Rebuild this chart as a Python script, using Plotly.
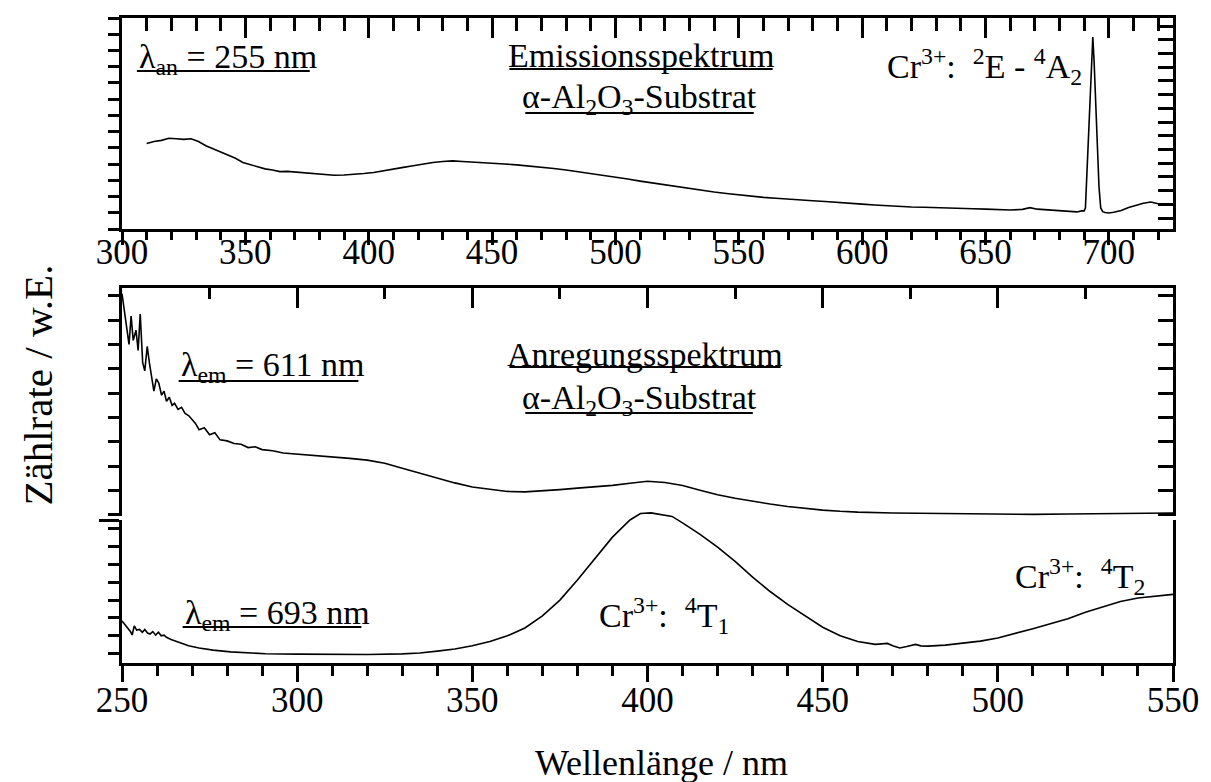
import plotly.graph_objects as go

# ---------------- data (arbitrary units) -------------
em_nm = [310, 313, 316, 319, 322, 325, 328, 331, 334, 337, 340, 343, 346, 349, 352, 355, 358,
         361, 364, 367, 370, 374, 378, 382, 386, 390, 394, 398, 402, 406, 410, 414, 418, 422,
         426, 430, 434, 438, 442, 446, 450, 455, 460, 465, 470, 475, 480, 485, 490, 495, 500,
         505, 510, 515, 520, 525, 530, 535, 540, 545, 550, 555, 560, 565, 570, 575, 580, 585,
         590, 595, 600, 605, 610, 615, 620, 625, 630, 635, 640, 645, 650, 655, 660, 665, 668,
         671, 675, 680, 684, 687, 689, 690, 690.5, 691, 692, 693, 693.5, 694, 695, 696, 696.7,
         697.5, 698.5, 700, 702, 705, 708, 711, 714, 717, 720, 723, 726]
em_val = [40.5, 41.5, 42.0, 43.0, 42.8, 42.5, 42.8, 41.5, 39.5, 38.0, 36.5, 35.0, 33.5, 31.5,
          30.5, 29.5, 28.5, 28.0, 27.2, 27.3, 27.0, 26.6, 26.2, 25.7, 25.5, 25.6, 25.8, 26.3,
          26.8, 27.5, 28.3, 29.2, 30.0, 30.9, 31.5, 32.0, 32.3, 32.0, 31.8, 31.6, 31.3, 30.8,
          30.4, 29.9, 29.3, 28.7, 28.0, 27.2, 26.3, 25.4, 24.6, 23.7, 22.7, 21.8, 20.9, 20.0,
          19.1, 18.3, 17.5, 16.8, 16.1, 15.5, 15.0, 14.6, 14.3, 13.8, 13.4, 13.0, 12.7, 12.2,
          11.8, 11.4, 11.0, 10.6, 10.4, 10.3, 10.2, 10.1, 9.8, 9.6, 9.4, 9.2, 9.0, 9.3, 10.1,
          9.4, 9.0, 8.6, 8.3, 8.1, 8.6, 8.6, 10.0, 24.0, 52.0, 82.0, 91.0, 80.0, 50.0, 20.0,
          10.0, 8.2, 7.8, 7.6, 7.9, 8.8, 10.2, 11.3, 12.2, 12.8, 12.0, 11.6, 11.3]

ex611_nm = [250, 250.7, 251.3, 252, 252.6, 253.2, 254, 254.6, 255.2, 255.9, 256.5, 257.2, 257.9,
            258.5, 259.1, 259.8, 260.5, 261.3, 262, 262.7, 263.5, 264.3, 265, 266, 267, 268,
            269, 270, 271, 272, 273.5, 275, 276.5, 278, 280, 282, 284, 286, 288, 290, 293, 296,
            300, 305, 310, 315, 320, 325, 330, 335, 340, 345, 350, 355, 360, 365, 370, 375, 380,
            385, 390, 395, 400, 405, 410, 415, 420, 425, 430, 435, 440, 445, 450, 455, 460, 470,
            480, 490, 500, 510, 520, 530, 540, 550]
ex611_val = [110, 101, 92, 85, 99, 87, 92, 82, 100, 76, 72, 84, 75, 69, 62, 68, 66, 60, 62, 57, 59,
             55, 56, 53, 54, 51, 50, 48, 46, 43, 44, 40.5, 41.5, 38, 37.5, 36.2, 35.8, 34.2, 34.6,
             33.2, 32.6, 31.5, 31.0, 30.4, 29.6, 28.9, 28.0, 26.5, 24.0, 21.5, 19.0, 16.8, 14.8,
             13.6, 12.6, 12.4, 12.8, 13.5, 14.2, 14.8, 15.6, 16.6, 17.6, 17.0, 15.5, 13.2, 11.0,
             9.2, 7.7, 6.4, 5.2, 4.2, 3.4, 2.8, 2.4, 2.0, 1.8, 1.8, 1.6, 1.3, 1.5, 1.7, 1.9, 2.0]

ex693_nm = [250, 250.8, 251.6, 252.4, 252.9, 253.5, 254.2, 255, 255.8, 256.5, 257.3, 258, 258.8,
            259.6, 260.4, 261.2, 262, 262.7, 264, 265.5, 267, 269, 272, 276, 281, 286, 291, 300,
            310, 320, 330, 335, 340, 345, 350, 355, 360, 365, 370, 375, 380, 385, 390, 395, 398,
            401, 404, 407, 410, 415, 420, 425, 430, 435, 440, 445, 450, 455, 460, 465, 468.5,
            470, 472, 474, 476.5, 478, 480, 485, 490, 495, 500, 505, 510, 515, 520, 525, 530,
            535, 540, 545, 550]
ex693_val = [29.4, 27, 25, 22, 19.6, 26, 23, 23.5, 21.5, 23.5, 21, 20.3, 22, 19.5, 21.5, 19,
             19.5, 18, 16.5, 15, 13.5, 12, 10.5, 9.0, 7.8, 7.0, 6.5, 6.2, 6.0, 5.9, 6.4, 7.0,
             8.3, 9.8, 12.0, 15.0, 19.0, 24.5, 33, 44, 58, 73, 88, 100, 104.5, 105, 103.8,
             102.5, 98, 90, 81, 71, 60, 50, 41, 33, 25, 19, 15, 13, 13.7, 12, 10.5, 11.5, 13,
             12, 11.8, 12.5, 13.7, 15.3, 17.5, 20.5, 24, 27.5, 31, 35.5, 39.5, 43, 45.5, 46.5, 48]

top_range = [300, 726]
low_range = [250, 550]

# ---------------- layout geometry ----------------
W, H = 1211, 782
L, R, T, B = 122, 1180, 18, 663


def X(px):
    return (px - L) / (R - L)


def Y(py):
    return (B - py) / (B - T)


MID_TOP, MID_BOT, BOT_TOP = 288, 516, 520
top_dom = [Y(229), 1.0]
mid_dom = [Y(MID_BOT), Y(MID_TOP)]
bot_dom = [0.0, Y(BOT_TOP)]
mid_range = [(517 - MID_BOT) / 2.03, (517 - MID_TOP) / 2.03]

FONT = "Liberation Serif, Times New Roman, serif"
LW = 3

fig = go.Figure()
line = dict(color="black", width=1.6)
fig.add_trace(go.Scatter(x=em_nm, y=em_val, mode="lines", line=line, xaxis="x", yaxis="y"))
fig.add_trace(go.Scatter(x=ex611_nm, y=ex611_val, mode="lines", line=line, xaxis="x4", yaxis="y2"))
fig.add_trace(go.Scatter(x=ex693_nm, y=ex693_val, mode="lines", line=line, xaxis="x3", yaxis="y7"))
# empty traces so that every frame axis is drawn
for xa, ya in [("x2", "y"), ("x", "y4"), ("x4", "y5"), ("x3", "y3"), ("x3", "y6")]:
    fig.add_trace(go.Scatter(x=[], y=[], xaxis=xa, yaxis=ya, hoverinfo="skip"))

base = dict(showgrid=False, zeroline=False, showline=True, linecolor="black", linewidth=LW,
            tickcolor="black", tickwidth=LW)


def minor(dt, t0, ln, side):
    return dict(dtick=dt, tick0=t0, ticklen=ln, ticks=side, tickwidth=LW, tickcolor="black",
                showgrid=False)


tickfont = dict(family=FONT, size=35, color="black")

fig.update_layout(
    width=W, height=H, margin=dict(l=L, r=W - R, t=T, b=H - B),
    paper_bgcolor="white", plot_bgcolor="white", showlegend=False,
    font=dict(family=FONT, color="black"),
    xaxis=dict(base, domain=[0, 1], anchor="y", range=top_range, tickmode="linear", tick0=300,
               dtick=50, ticks="outside", ticklen=13, minor=minor(10, 300, 8, "outside"),
               tickfont=tickfont, ticklabelstandoff=-23),
    xaxis2=dict(base, overlaying="x", anchor="y", side="top", range=top_range, tickmode="linear",
                tick0=300, dtick=50, ticks="inside", ticklen=20, minor=minor(10, 300, 13, "inside"),
                showticklabels=False),
    yaxis=dict(base, domain=top_dom, anchor="x", range=[0, 100], tickmode="linear", tick0=0,
               dtick=100 / 13, ticks="outside", ticklen=11, showticklabels=False),
    yaxis4=dict(base, overlaying="y", anchor="x", side="right", range=[0, 100], tickmode="linear",
                tick0=5.2, dtick=6.5, ticks="inside", ticklen=15, showticklabels=False),
    xaxis3=dict(base, domain=[0, 1], anchor="y3", range=low_range, tickmode="linear", tick0=250,
                dtick=50, ticks="outside", ticklen=16, minor=minor(10, 250, 10, "outside"),
                tickfont=tickfont, ticklabelstandoff=-12),
    xaxis4=dict(base, domain=[0, 1], anchor="y2", side="top", range=low_range, tickmode="linear",
                tick0=250, dtick=50, ticks="inside", ticklen=20, minor=minor(25, 250, 11, "inside"),
                showticklabels=False),
    yaxis2=dict(base, domain=mid_dom, anchor="x4", range=mid_range, tickmode="linear", tick0=1,
                dtick=12, ticks="outside", ticklen=11, showticklabels=False),
    yaxis5=dict(base, overlaying="y2", anchor="x4", side="right", range=mid_range,
                tickmode="linear", tick0=1, dtick=12, ticks="inside", ticklen=15,
                showticklabels=False),
    yaxis3=dict(base, domain=bot_dom, anchor="x3", range=[0, 100], tickmode="linear", tick0=6.5,
                dtick=12.5, ticks="outside", ticklen=11, showticklabels=False,
                minor=dict(tickvals=[100], ticklen=20, ticks="outside", tickwidth=LW,
                           tickcolor="black")),
    yaxis6=dict(base, overlaying="y3", anchor="x3", side="right", range=[0, 100],
                tickmode="linear", tick0=6.5, dtick=12.5, ticks="inside", ticklen=15,
                showticklabels=False),
    yaxis7=dict(domain=[0, mid_dom[1]], anchor="x3", range=[0, 100 * mid_dom[1] / bot_dom[1]],
                visible=False),
)

afont = dict(family=FONT, size=34, color="black")
NB = "\u00a0"
annots = [
    ("λ<sub>an</sub> = 255 nm", 137, 59, "left"),
    ("Emissionsspektrum", 644, 56, "center"),
    ("α-Al<sub>2</sub>O<sub>3</sub>-Substrat", 643, 99, "center"),
    ("Cr<sup>3+</sup>:" + NB + NB + "<sup>2</sup>E - <sup>4</sup>A<sub>2</sub>", 990, 67, "center"),
    ("λ<sub>em</sub> = 611 nm", 179, 367, "left"),
    ("Anregungsspektrum", 648, 355, "center"),
    ("α-Al<sub>2</sub>O<sub>3</sub>-Substrat", 643, 400, "center"),
    ("λ<sub>em</sub> = 693 nm", 183, 615, "left"),
    ("Cr<sup>3+</sup>:" + NB + NB + "<sup>4</sup>T<sub>1</sub>", 668, 615, "center"),
    ("Cr<sup>3+</sup>:" + NB + NB + "<sup>4</sup>T<sub>2</sub>", 1086, 576, "center"),
]
for txt, px, py, xa in annots:
    fig.add_annotation(text=txt, x=X(px), y=Y(py), xref="paper", yref="paper", xanchor=xa,
                       yanchor="middle", showarrow=False, font=afont)

fig.add_annotation(text="Wellenlänge / nm", x=X(665), y=Y(763), xref="paper", yref="paper",
                   xanchor="center", yanchor="middle", showarrow=False,
                   font=dict(family=FONT, size=36, color="black"))
fig.add_annotation(text="Zählrate / w.E.", x=X(37), y=Y(385), xref="paper", yref="paper",
                   xanchor="center", yanchor="middle", textangle=-90, showarrow=False,
                   font=dict(family=FONT, size=41, color="black"))

# underlines of the labels
for x0, x1, yy in [(137, 311, 71), (512, 777, 69), (528, 758, 113), (179, 360, 381),
                   (512, 785, 367), (528, 757, 413), (183, 363, 627)]:
    fig.add_shape(type="line", xref="paper", yref="paper", x0=X(x0), x1=X(x1), y0=Y(yy),
                  y1=Y(yy), line=dict(color="black", width=2))

fig.write_html("out.html")
